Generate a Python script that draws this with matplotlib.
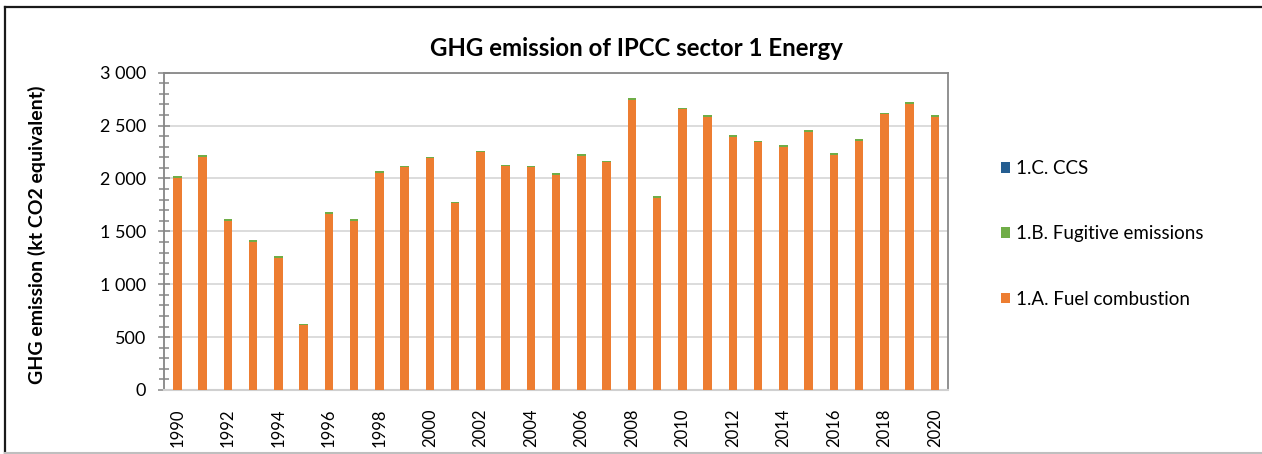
import matplotlib.pyplot as plt
import matplotlib.ticker as mticker
from matplotlib.lines import Line2D
import numpy as np

plt.rcParams['font.family'] = ['Lato', 'DejaVu Sans']

# ==============================
# Data (kt CO2 equivalent)
# ==============================
years = list(range(1990, 2021))
fuel_combustion = [2005, 2205, 1600, 1402, 1252, 612, 1668, 1602, 2055, 2104,
                   2190, 1765, 2247, 2115, 2106, 2037, 2216, 2152, 2745, 1819,
                   2656, 2585, 2395, 2341, 2301, 2442, 2226, 2357, 2606, 2707,
                   2584]
fugitive = [14, 15, 16, 14, 13, 12, 13, 14, 14, 15,
            14, 13, 13, 13, 12, 13, 13, 13, 14, 12,
            13, 12, 13, 13, 12, 13, 12, 13, 13, 13,
            13]
ccs = [0] * len(years)

col_fuel = '#ED7D31'
col_fug = '#70AD47'
col_ccs = '#255E91'

# ==============================
# Figure
# ==============================
W, H = 1262, 454
fig = plt.figure(figsize=(W / 100, H / 100), dpi=100)
ax = fig.add_axes([164 / W, 1 - 390 / H, (948 - 164) / W, (390 - 72.7) / H])

x = np.arange(len(years))
fuel = np.array(fuel_combustion)
fug = np.array(fugitive)
bw = 0.33
b1 = ax.bar(x, fuel, bw, color=col_fuel, zorder=3, label='1.A. Fuel combustion')
b2 = ax.bar(x, fug, bw, bottom=fuel, color=col_fug, zorder=3, label='1.B. Fugitive emissions')
b3 = ax.bar(x, ccs, bw, bottom=fuel + fug, color=col_ccs, zorder=3, label='1.C. CCS')

ax.set_xlim(-0.53, 30.52)
ax.set_ylim(0, 3000)

# y axis: crossing ticks, space as thousands separator
ax.yaxis.set_major_locator(mticker.MultipleLocator(500))
ax.yaxis.set_minor_locator(mticker.MultipleLocator(100))
ax.yaxis.set_major_formatter(mticker.FuncFormatter(lambda v, p: f"{int(v):,}".replace(',', ' ')))
ax.tick_params(axis='y', which='major', direction='inout', length=8.5, width=1.1,
               color='#868686', labelsize=13, pad=8.5, labelcolor='#000000')
ax.tick_params(axis='y', which='minor', direction='inout', length=6.7, width=1.1,
               color='#868686')
ax.grid(axis='y', color='#D9D9D9', linewidth=1.3, zorder=0)

# x axis: every second year, rotated
ax.set_xticks(x[::2])
ax.set_xticklabels([str(y) for y in years[::2]], rotation=90)
ax.tick_params(axis='x', length=0, labelsize=12, pad=13)

for s in ['top', 'right']:
    ax.spines[s].set_color('#888888')
    ax.spines[s].set_linewidth(1.3)
ax.spines['left'].set_color('#868686')
ax.spines['left'].set_linewidth(1.3)
ax.spines['bottom'].set_color('#D0D0D0')
ax.spines['bottom'].set_linewidth(1.5)

ax.set_ylabel('GHG emission (kt CO2 equivalent)', fontsize=14, fontweight='bold')
ax.yaxis.set_label_coords((46 - 164) / (948 - 164), (390 - 235) / (390 - 72.7))

fig.text(636 / W, 1 - 49 / H, 'GHG emission of IPCC sector 1 Energy',
         ha='center', va='center', fontsize=17.3, fontweight='bold')

fig.legend(handles=[b3, b2, b1], loc='upper left', bbox_to_anchor=(984 / W, 1 - 143 / H),
           frameon=False, fontsize=13.5, labelspacing=2.58, handlelength=0.5,
           handleheight=0.5, handletextpad=0.3)

# outer frame: dark on top and left, light at the bottom
fig.add_artist(Line2D([5 / W, 1], [1 - 7 / H, 1 - 7 / H], transform=fig.transFigure,
                      color='#1a1a1a', linewidth=1.6))
fig.add_artist(Line2D([5 / W, 5 / W], [0, 1 - 7 / H], transform=fig.transFigure,
                      color='#1a1a1a', linewidth=1.6))
fig.add_artist(Line2D([5 / W, 1], [1.5 / H, 1.5 / H], transform=fig.transFigure,
                      color='#BFBFBF', linewidth=1.5))

plt.savefig('out.png', dpi=100)
